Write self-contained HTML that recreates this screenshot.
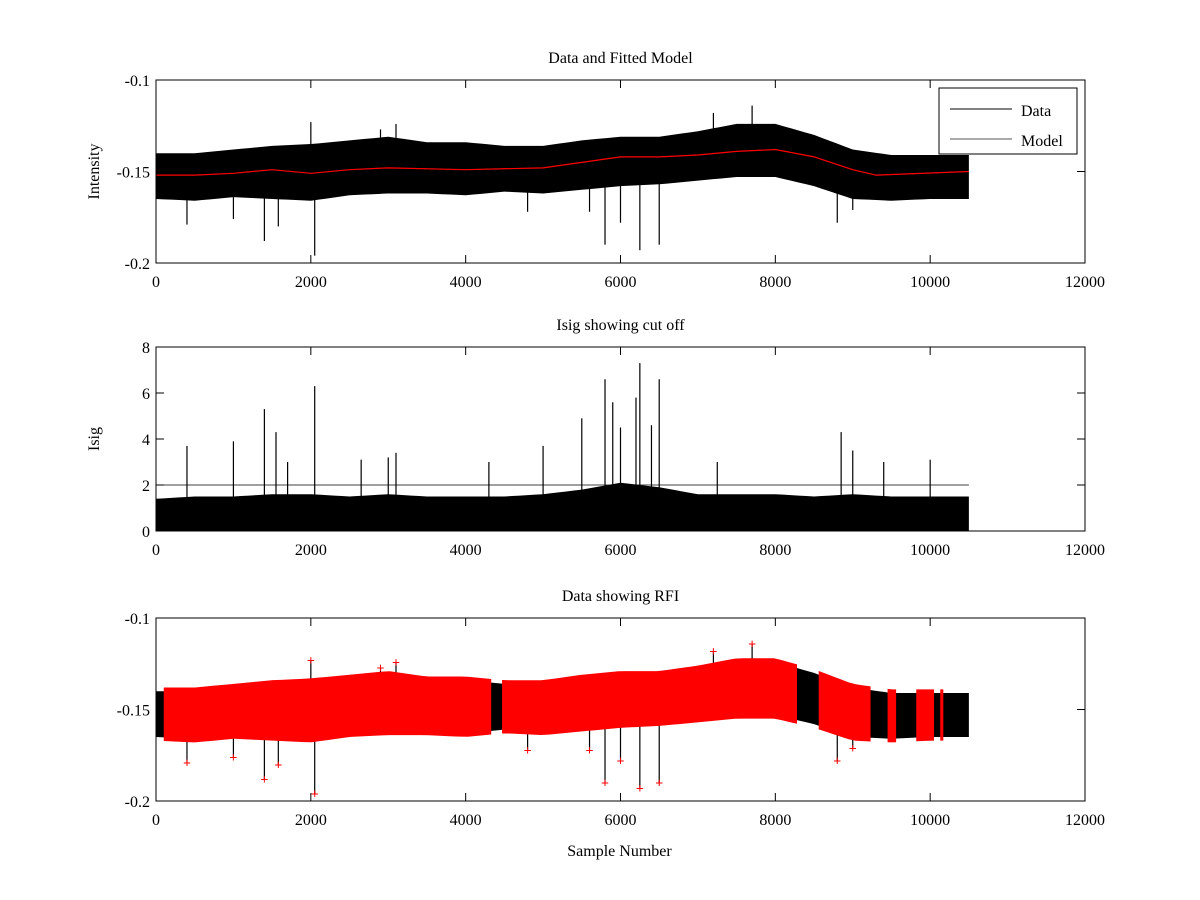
<!DOCTYPE html>
<html><head><meta charset="utf-8"><style>
body{margin:0;background:#fff}
svg{display:block}
text{font-family:"Liberation Serif",serif;font-size:16px;fill:#000}
</style></head><body>
<svg id="c" width="1200" height="900"></svg>
<script>
const xs=[0,500,1000,1500,2000,2500,3000,3500,4000,4500,5000,5500,6000,6500,7000,7500,8000,8500,9000,9500,10000,10500];
const dataHi=[-0.140,-0.140,-0.138,-0.136,-0.135,-0.133,-0.131,-0.134,-0.134,-0.136,-0.136,-0.133,-0.131,-0.131,-0.128,-0.124,-0.124,-0.130,-0.138,-0.141,-0.141,-0.141];
const dataLo=[-0.165,-0.166,-0.164,-0.165,-0.166,-0.163,-0.162,-0.162,-0.163,-0.161,-0.162,-0.160,-0.158,-0.157,-0.155,-0.153,-0.153,-0.158,-0.165,-0.166,-0.165,-0.165];
const modelX=[0,500,1000,1500,2000,2500,3000,4000,5000,5500,6000,6500,7000,7500,8000,8500,9000,9300,10500];
const modelY=[-0.152,-0.152,-0.151,-0.149,-0.151,-0.149,-0.148,-0.149,-0.148,-0.145,-0.142,-0.142,-0.141,-0.139,-0.138,-0.142,-0.149,-0.152,-0.150];
const spikeX=[400,1000,1400,1580,2050,2000,2900,3100,4800,5600,5800,6000,6250,6500,7200,7700,8800,9000];
const spikeY=[-0.179,-0.176,-0.188,-0.180,-0.196,-0.123,-0.127,-0.124,-0.172,-0.172,-0.190,-0.178,-0.193,-0.190,-0.118,-0.114,-0.178,-0.171];
const isigHi=[1.4,1.5,1.5,1.6,1.6,1.5,1.6,1.5,1.5,1.5,1.6,1.8,2.1,1.9,1.6,1.6,1.6,1.5,1.6,1.5,1.5,1.5];
const isigSpikeX=[400,1000,1400,1550,1700,2050,2650,3000,3100,4300,5000,5500,5800,5900,6000,6200,6250,6400,6500,7250,8850,9000,9400,10000];
const isigSpikeY=[3.7,3.9,5.3,4.3,3.0,6.3,3.1,3.2,3.4,3.0,3.7,4.9,6.6,5.6,4.5,5.8,7.3,4.6,6.6,3.0,4.3,3.5,3.0,3.1];
const cutoff=2;
const rfiStart=[100,4470,8560,9450,9820,10130];
const rfiEnd=[4330,8280,9230,9560,10050,10170];
const xTicks=[0,2000,4000,6000,8000,10000,12000];

const NS="http://www.w3.org/2000/svg";
const svg=document.getElementById('c');
function el(t,a,p){const e=document.createElementNS(NS,t);for(const k in a)e.setAttribute(k,a[k]);(p||svg).appendChild(e);return e;}
const L=156,R=1085;
const X=v=>L+v/12000*(R-L);
function interp(ax,ay,x){for(let i=0;i<ax.length-1;i++){if(x>=ax[i]&&x<=ax[i+1]){const t=(x-ax[i])/(ax[i+1]-ax[i]);return ay[i]+t*(ay[i+1]-ay[i]);}}return ay[ay.length-1];}
function axes(top,bot,ymin,ymax,yt,yl,name,title,ylabel){
  const Y=v=>bot-(v-ymin)/(ymax-ymin)*(bot-top);
  const g=el('g',{});
  
  
  const t=el('text',{x:(L+R)/2,y:top-17,'text-anchor':'middle'},g);t.textContent=title;
  
  if(ylabel){const yl2=el('text',{x:0,y:0,'text-anchor':'middle',transform:`translate(${L-57},${(top+bot)/2}) rotate(-90)`},g);yl2.textContent=ylabel;
    }
  xTicks.forEach(v=>{const x=X(v);el('line',{x1:x,x2:x,y1:bot,y2:bot-8,stroke:'#000'},g);el('line',{x1:x,x2:x,y1:top,y2:top+8,stroke:'#000'},g);
    const tt=el('text',{x:x,y:bot+24,'text-anchor':'middle'},g);tt.textContent=v;
    });
  yt.forEach((v,i)=>{const y=Y(v);el('line',{x1:L,x2:L+8,y1:y,y2:y,stroke:'#000'},g);el('line',{x1:R,x2:R-8,y1:y,y2:y,stroke:'#000'},g);
    const tt=el('text',{x:L-6,y:y+6,'text-anchor':'end'},g);tt.textContent=yl[i];
    });
  return {Y,g,top,bot};
}
function band(Y,hi,lo,from,to,fill,name){
  let pts=[];
  const n=Math.max(2,Math.round((to-from)/100));
  for(let i=0;i<=n;i++){const x=from+(to-from)*i/n;pts.push(X(x)+','+Y(interp(xs,hi,x)));}
  for(let i=n;i>=0;i--){const x=from+(to-from)*i/n;pts.push(X(x)+','+Y(interp(xs,lo,x)));}
  const p=el('polygon',{points:pts.join(' '),fill:fill});
  
  
  return p;
}
function spikes(Y,sx,sy,base,color,name){
  sx.forEach((x,i)=>{const b=typeof base==='function'?base(x):base;
    const s=el('line',{x1:X(x),x2:X(x),y1:Y(b),y2:Y(sy[i]),stroke:color,'stroke-width':1.2});
    
    });
}
const p1=axes(80,263,-0.2,-0.1,[-0.2,-0.15,-0.1],['-0.2','-0.15','-0.1'],'data-fitted-panel','Data and Fitted Model','Intensity');
band(p1.Y,dataHi,dataLo,0,10500,'#000','data-series');
spikes(p1.Y,spikeX,spikeY,x=>interp(modelX,modelY,x),'#000','data-spike');
const mp=el('polyline',{points:modelX.map((x,i)=>X(x)+','+p1.Y(modelY[i])).join(' '),fill:'none',stroke:'#f00','stroke-width':1.2});

el('rect',{x:L,y:80,width:R-L,height:183,fill:'none',stroke:'#000'});
const lg=el('g',{});
el('rect',{x:939,y:88,width:138,height:66,fill:'#fff',stroke:'#000'},lg);
el('line',{x1:950,x2:1012,y1:109,y2:109,stroke:'#000'},lg);
el('line',{x1:950,x2:1012,y1:139,y2:139,stroke:'#555'},lg);
const lt1=el('text',{x:1021,y:116},lg);lt1.textContent='Data';
const lt2=el('text',{x:1021,y:146},lg);lt2.textContent='Model';
const p2=axes(347,531,0,8,[0,2,4,6,8],['0','2','4','6','8'],'isig-panel','Isig showing cut off','Isig');
band(p2.Y,isigHi,xs.map(()=>0),0,10500,'#000','isig-series');
spikes(p2.Y,isigSpikeX,isigSpikeY,0,'#000','isig-spike');
const cl=el('line',{x1:X(0),x2:X(10500),y1:p2.Y(cutoff),y2:p2.Y(cutoff),stroke:'#000','stroke-width':0.8});

el('rect',{x:L,y:347,width:R-L,height:184,fill:'none',stroke:'#000'});
const p3=axes(618,801,-0.2,-0.1,[-0.2,-0.15,-0.1],['-0.2','-0.15','-0.1'],'rfi-panel','Data showing RFI',null);
band(p3.Y,dataHi,dataLo,0,10500,'#000','rfi-data-series');
spikes(p3.Y,spikeX,spikeY,x=>interp(modelX,modelY,x),'#000','rfi-data-spike');
const pad=0.002;
rfiStart.forEach((s,i)=>band(p3.Y,dataHi.map(v=>v+pad),dataLo.map(v=>v-pad),s,rfiEnd[i],'#f00','rfi-flagged-band'));
spikeX.forEach((x,i)=>{let inside=rfiStart.some((s,k)=>x>=s&&x<=rfiEnd[k]);if(!inside)return;
  const m=el('text',{x:X(x),y:p3.Y(spikeY[i])+5,'text-anchor':'middle',style:'fill:#f00;font-size:14px;font-weight:bold'});m.textContent='+';
  });
el('rect',{x:L,y:618,width:R-L,height:183,fill:'none',stroke:'#000'});
const xl=el('text',{x:(L+R)/2-1,y:856,'text-anchor':'middle'});xl.textContent='Sample Number';

</script>
</body></html>
